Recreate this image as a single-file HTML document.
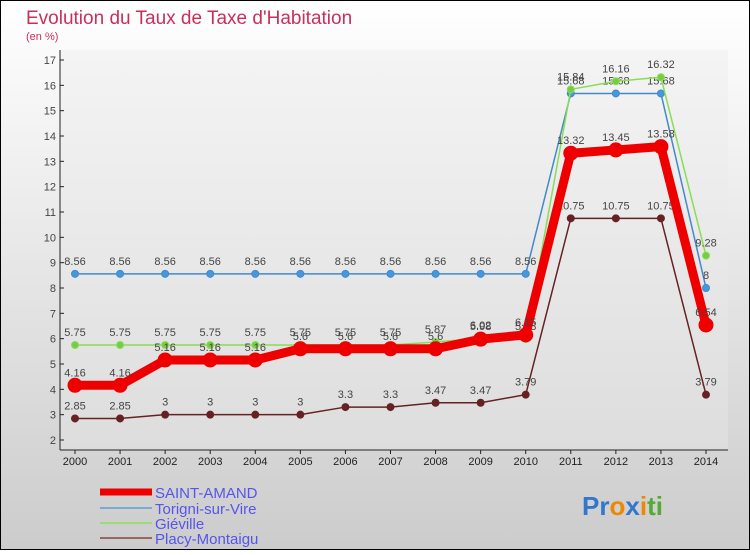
<!DOCTYPE html>
<html><head><meta charset="utf-8"><style>
body{margin:0}
#c{width:750px;height:550px;position:relative;font-family:"Liberation Sans",sans-serif}
</style></head><body>
<div id="c">
<svg id="s" width="750" height="550" xmlns="http://www.w3.org/2000/svg">
<defs>
<linearGradient id="bg" x1="0" y1="0" x2="0" y2="1"><stop offset="0" stop-color="#ffffff"/><stop offset="1" stop-color="#cccccc"/></linearGradient>
<linearGradient id="pg" x1="0" y1="0" x2="0" y2="1"><stop offset="0" stop-color="#f4f4f4"/><stop offset="1" stop-color="#dddddd"/></linearGradient>
</defs>
<rect x="0.5" y="0.5" width="749" height="549" fill="url(#bg)" stroke="#000"/>
<rect x="60" y="50" width="668" height="400" fill="url(#pg)"/>
<text x="26" y="24" font-size="19" fill="#c8305a">Evolution du Taux de Taxe d'Habitation</text>
<text x="26" y="40" font-size="11" fill="#c8305a">(en %)</text>
<g id="axes"></g><g id="series"></g>
<g>
<line x1="100" y1="492" x2="152" y2="492" stroke="#ee0000" stroke-width="7"/>
<text x="155" y="498" font-size="15" fill="#5555ee">SAINT-AMAND</text>
<line x1="100" y1="508" x2="152" y2="508" stroke="#7aaad0" stroke-width="2"/>
<text x="155" y="514" font-size="15" fill="#5555ee">Torigni-sur-Vire</text>
<line x1="100" y1="523" x2="152" y2="523" stroke="#99dd77" stroke-width="2"/>
<text x="155" y="529" font-size="15" fill="#5555ee">Giéville</text>
<line x1="100" y1="538" x2="152" y2="538" stroke="#996666" stroke-width="2"/>
<text x="155" y="544" font-size="15" fill="#5555ee">Placy-Montaigu</text>
</g>
<text x="582" y="515" font-size="26" font-weight="bold"><tspan fill="#3377cc">Pr</tspan><tspan fill="#ee8800">o</tspan><tspan fill="#3377cc">x</tspan><tspan fill="#ee8800">i</tspan><tspan fill="#55aa33">ti</tspan></text>
</svg>
</div>
<script>
const years=[2000,2001,2002,2003,2004,2005,2006,2007,2008,2009,2010,2011,2012,2013,2014];
const yTicks=[2,3,4,5,6,7,8,9,10,11,12,13,14,15,16,17];
const saintAmand=[4.16,4.16,5.16,5.16,5.16,5.6,5.6,5.6,5.6,5.98,6.15,13.32,13.45,13.58,6.54];
const torigni=[8.56,8.56,8.56,8.56,8.56,8.56,8.56,8.56,8.56,8.56,8.56,15.68,15.68,15.68,8];
const gieville=[5.75,5.75,5.75,5.75,5.75,5.75,5.75,5.75,5.87,6.02,5.98,15.84,16.16,16.32,9.28];
const placy=[2.85,2.85,3,3,3,3,3.3,3.3,3.47,3.47,3.79,10.75,10.75,10.75,3.79];
const NS='http://www.w3.org/2000/svg';
const xS=i=>75+i*(706-75)/(years.length-1);
const yS=v=>440-(v-2)*(380/15);
function mk(t,a,p){const e=document.createElementNS(NS,t);for(const k in a)e.setAttribute(k,a[k]);p.appendChild(e);return e;}
const ax=document.getElementById('axes');
const yl=mk('line',{x1:60,y1:50,x2:60,y2:450,stroke:'#222'},ax);


const xl=mk('line',{x1:60,y1:450,x2:728,y2:450,stroke:'#222'},ax);


yTicks.forEach(v=>{const t=mk('text',{x:56,y:yS(v)+4,'font-size':11,fill:'#444','text-anchor':'end'},ax);t.textContent=v;


mk('line',{x1:60,y1:yS(v),x2:64,y2:yS(v),stroke:'#222'},ax);});
years.forEach((y,i)=>{const t=mk('text',{x:xS(i),y:465,'font-size':11,fill:'#222','text-anchor':'middle'},ax);t.textContent=y;


mk('line',{x1:xS(i),y1:450,x2:xS(i),y2:454,stroke:'#222'},ax);});
const sg=document.getElementById('series');
function draw(data,col,w,r,fill,name){
const g=mk('g',{},sg);


const l=mk('polyline',{points:data.map((v,i)=>xS(i)+','+yS(v)).join(' '),fill:'none',stroke:col,'stroke-width':w},g);


data.forEach((v,i)=>{const c=mk('circle',{cx:xS(i),cy:yS(v),r:r,fill:fill,stroke:col,'stroke-width':1},g);


const t=mk('text',{x:xS(i),y:yS(v)-9,'font-size':11,fill:'#444','text-anchor':'middle'},g);t.textContent=v;

});
}
draw(placy,'#662222',1.5,3.5,'#662222','placy');
draw(torigni,'#4488cc',1.5,3.5,'#4499dd','torigni');
draw(gieville,'#88dd55',1.5,3.5,'#77cc44','gieville');
draw(saintAmand,'#ee0000',9,7,'#ee0000','saint-amand');
</script>
</body></html>
